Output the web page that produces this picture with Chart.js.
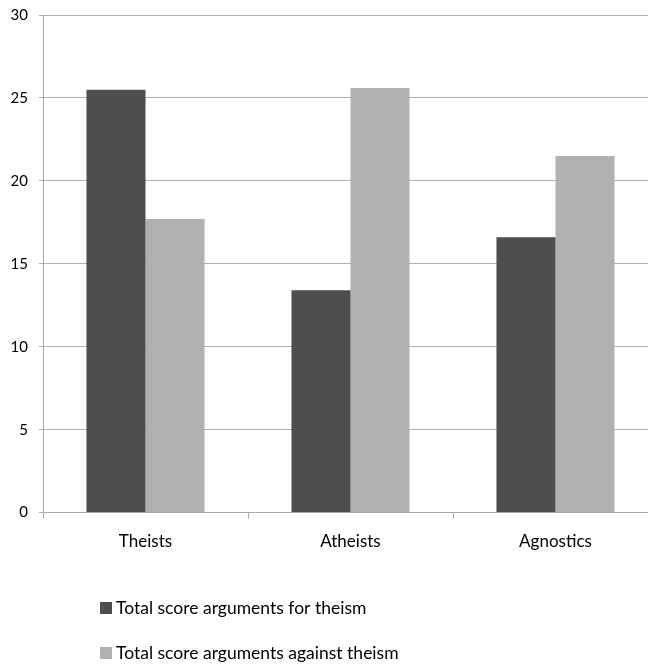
<!DOCTYPE html>
<html>
<head>
<meta charset="utf-8">
<script src="https://cdn.jsdelivr.net/npm/chart.js@4/dist/chart.umd.min.js"></script>
<style>
html,body{margin:0;padding:0;background:#fff;overflow:hidden;}
#wrap{width:648px;height:664px;overflow:hidden;position:relative;}
canvas{display:block;}
</style>
</head>
<body>
<div id="wrap"><canvas id="c" width="660" height="664"></canvas></div>
<script>
const categories = ["Theists", "Atheists", "Agnostics"];
const seriesNames = ["Total score arguments for theism", "Total score arguments against theism"];
const forTheism = [25.5, 13.4, 16.6];
const againstTheism = [17.7, 25.6, 21.5];
const yTicks = [0, 5, 10, 15, 20, 25, 30];

const colors = ["#4e4e4e", "#b1b1b1"];
const FONT = "Lato, 'Open Sans', sans-serif";

const legendPlugin = {
  id: 'customLegend',
  afterDraw(chart) {
    const ctx = chart.ctx;
    ctx.save();
    ctx.font = "17.5px " + FONT;
    ctx.textBaseline = "alphabetic";
    ctx.textAlign = "left";
    const rowsBaseline = [614, 659];
    chart.data.datasets.forEach((ds, i) => {
      const yb = rowsBaseline[i];
      ctx.fillStyle = ds.backgroundColor;
      ctx.fillRect(100, yb - 12, 12, 12);
      ctx.fillStyle = "#000";
      ctx.fillText(ds.label, 116, yb);
    });
    ctx.restore();
  }
};

new Chart(document.getElementById('c'), {
  type: 'bar',
  data: {
    labels: categories,
    datasets: [
      { label: seriesNames[0], data: forTheism, backgroundColor: colors[0], categoryPercentage: 0.576, barPercentage: 1.0 },
      { label: seriesNames[1], data: againstTheism, backgroundColor: colors[1], categoryPercentage: 0.576, barPercentage: 1.0 }
    ]
  },
  options: {
    responsive: false,
    animation: false,
    devicePixelRatio: 1,
    layout: { padding: { top: 15, right: 2, bottom: 99, left: 0 } },
    plugins: {
      legend: { display: false },
      tooltip: { enabled: false }
    },
    scales: {
      x: {
        grid: { display: true, drawOnChartArea: false, drawTicks: true, tickLength: 6, color: '#a9a9a9', offset: true },
        border: { display: true, color: '#a9a9a9', width: 1 },
        ticks: { color: '#000', font: { family: FONT, size: 17 }, padding: 13 }
      },
      y: {
        min: 0, max: 30,
        afterFit(scale) { scale.width = 43; scale.paddingTop = 0; scale.paddingBottom = 0; },
        afterBuildTicks(scale) { scale.ticks = yTicks.map(v => ({ value: v })); },
        grid: { color: '#b0b0b0', lineWidth: 1, tickLength: 4, drawTicks: true },
        border: { display: true, color: '#a9a9a9', width: 1 },
        ticks: { color: '#000', font: { family: FONT, size: 15 }, padding: 11 }
      }
    }
  },
  plugins: [legendPlugin]
});
</script>
</body>
</html>
